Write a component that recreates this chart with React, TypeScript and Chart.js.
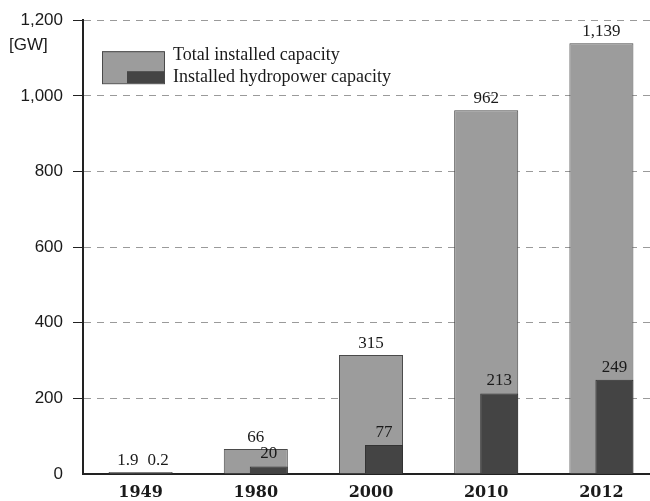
import React, { useEffect, useRef } from 'react';
import { Chart, registerables } from 'chart.js';

Chart.register(...registerables);

const categories = ['1949', '1980', '2000', '2010', '2012'];
const totalCapacity = [1.9, 66, 315, 962, 1139];
const hydroCapacity = [0.2, 20, 77, 213, 249];
const totalLabels = ['1.9', '66', '315', '962', '1,139'];
const hydroLabels = ['0.2', '20', '77', '213', '249'];
const yTicks = [0, 200, 400, 600, 800, 1000, 1200];
const seriesNames = ['Total installed capacity', 'Installed hydropower capacity'];
const unitLabel = '[GW]';

const TOTAL_FILL = '#9c9c9c';
const TOTAL_BORDER = '#4a4a4a';
const HYDRO_FILL = '#444444';
const HYDRO_BORDER = '#333333';
const TEXT = '#1a1a1a';
const SERIF = '"Liberation Serif", serif';
const SANS = '"Liberation Sans", sans-serif';

const alignHydroPlugin = {
  id: 'alignHydro',
  afterDatasetsUpdate(chart: any) {
    const m0 = chart.getDatasetMeta(0);
    const m1 = chart.getDatasetMeta(1);
    m1.data.forEach((el: any, i: number) => {
      const t = m0.data[i];
      if (!t) return;
      el.x = t.x + t.width / 2 - el.width / 2;
    });
  },
};

const valueLabelsPlugin = {
  id: 'valueLabels',
  afterDatasetsDraw(chart: any) {
    const ctx = chart.ctx;
    const m0 = chart.getDatasetMeta(0);
    const m1 = chart.getDatasetMeta(1);
    ctx.save();
    ctx.font = `17px ${SERIF}`;
    ctx.fillStyle = TEXT;
    ctx.textBaseline = 'bottom';
    m0.data.forEach((t: any, i: number) => {
      const h = m1.data[i];
      if (Math.abs(t.y - h.y) < 16) {
        const y = Math.min(t.y, h.y) - 3;
        ctx.textAlign = 'right';
        ctx.fillText(totalLabels[i], t.x - 2, y);
        ctx.textAlign = 'left';
        ctx.fillText(hydroLabels[i], t.x + 7, y);
      } else {
        ctx.textAlign = 'center';
        ctx.fillText(totalLabels[i], t.x, t.y - 3);
        ctx.fillText(hydroLabels[i], h.x, h.y - 4);
      }
    });
    ctx.restore();
  },
};

const legendPlugin = {
  id: 'customLegend',
  afterDraw(chart: any) {
    const ctx = chart.ctx;
    const a = chart.chartArea;
    const x0 = a.left + 19;
    const y0 = a.top + 31;
    const w = 62;
    const h = 32;
    ctx.save();
    ctx.fillStyle = TOTAL_FILL;
    ctx.fillRect(x0, y0, w, h);
    ctx.fillStyle = HYDRO_FILL;
    ctx.fillRect(x0 + 25, y0 + 20, w - 25, h - 20);
    ctx.strokeStyle = TOTAL_BORDER;
    ctx.lineWidth = 1;
    ctx.strokeRect(x0 + 0.5, y0 + 0.5, w, h);
    ctx.font = `18px ${SERIF}`;
    ctx.fillStyle = TEXT;
    ctx.textAlign = 'left';
    ctx.textBaseline = 'alphabetic';
    ctx.fillText(seriesNames[0], x0 + 71, y0 + 9);
    ctx.fillText(seriesNames[1], x0 + 71, y0 + 31);
    ctx.font = `17px ${SANS}`;
    ctx.textBaseline = 'middle';
    ctx.fillText(unitLabel, a.left - 74, a.top + 25);
    ctx.restore();
  },
};

export default function App() {
  const ref = useRef<HTMLCanvasElement | null>(null);

  useEffect(() => {
    if (!ref.current) return;
    const chart = new Chart(ref.current, {
      type: 'bar',
      data: {
        labels: categories,
        datasets: [
          {
            label: seriesNames[0],
            data: totalCapacity,
            backgroundColor: TOTAL_FILL,
            borderColor: TOTAL_BORDER,
            borderWidth: 1,
            grouped: false,
            categoryPercentage: 1,
            barPercentage: 0.556,
            minBarLength: 2,
            order: 2,
          },
          {
            label: seriesNames[1],
            data: hydroCapacity,
            backgroundColor: HYDRO_FILL,
            borderColor: HYDRO_BORDER,
            borderWidth: 1,
            grouped: false,
            categoryPercentage: 1,
            barPercentage: 0.33,
            order: 1,
          },
        ],
      } as any,
      options: {
        responsive: false,
        animation: false,
        devicePixelRatio: 1,
        layout: { padding: { top: 20, right: 1, left: 0, bottom: 0 } },
        plugins: {
          legend: { display: false },
          tooltip: { enabled: false },
        },
        scales: {
          x: {
            type: 'category',
            grid: { display: false, drawTicks: false },
            border: { color: '#222', width: 2 },
            ticks: {
              font: { family: '"DejaVu Serif", serif', size: 16, weight: 'bold' },
              color: TEXT,
              padding: 9,
            },
            afterFit: (s: any) => {
              s.height = 27;
            },
          },
          y: {
            min: 0,
            max: 1200,
            afterBuildTicks: (s: any) => {
              s.ticks = yTicks.map((v) => ({ value: v }));
            },
            ticks: {
              font: { family: SANS, size: 17 },
              color: TEXT,
              padding: 10,
              callback: (v: any) => Number(v).toLocaleString('en-US'),
            },
            grid: {
              color: (c: any) => (c.tick && c.tick.value === 0 ? 'rgba(0,0,0,0)' : '#9a9a9a'),
              tickColor: (c: any) => (c.tick && c.tick.value === 0 ? 'rgba(0,0,0,0)' : '#222'),
              lineWidth: 1,
              tickLength: 10,
              tickBorderDash: [],
            },
            border: { color: '#222', width: 2, dash: [7, 6] },
            afterFit: (s: any) => {
              s.width = 83;
            },
          },
        },
      } as any,
      plugins: [alignHydroPlugin, valueLabelsPlugin, legendPlugin],
    });
    return () => chart.destroy();
  }, []);

  return (
    <div
      style={{
        position: 'fixed',
        left: 0,
        top: 0,
        width: 650,
        height: 501,
        overflow: 'hidden',
        background: '#fff',
      }}
    >
      <canvas ref={ref} width={660} height={501} style={{ display: 'block', width: 660, height: 501 }} />
    </div>
  );
}
